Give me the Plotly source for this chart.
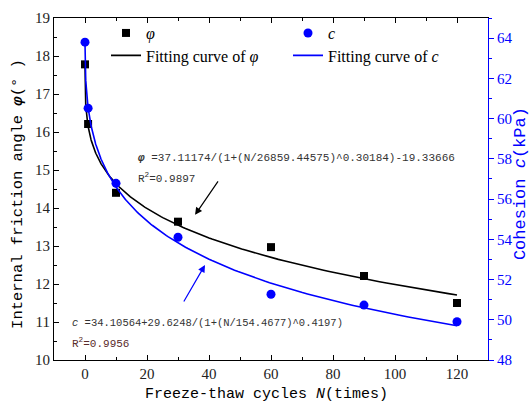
import numpy as np
import plotly.graph_objects as go

# Measured data
cycles = [0, 1, 10, 30, 60, 90, 120]
phi_vals = [17.78, 16.21, 14.40, 13.64, 12.97, 12.21, 11.50]
c_vals = [63.80, 60.52, 56.78, 54.10, 51.27, 50.73, 49.90]

# Logistic fit parameters: y = A2 + (A1 - A2) / (1 + (N / x0)^p)
phi_fit = dict(A2=-19.33666, amp=37.11174, x0=26859.44575, p=0.30184)
c_fit = dict(A2=34.10564, amp=29.6248, x0=154.4677, p=0.4197)

x_ticks = [0, 20, 40, 60, 80, 100, 120]


def logistic(n, prm):
    return prm["A2"] + prm["amp"] / (1.0 + (n / prm["x0"]) ** prm["p"])


n_curve = np.concatenate([[0.0], np.geomspace(1e-4, 120, 600)])
phi_curve = logistic(n_curve, phi_fit)
c_curve = logistic(n_curve, c_fit)

BLUE = "#0000ff"
SERIF = "Liberation Serif"
MONO = "Liberation Mono"

fig = go.Figure()
fig.add_trace(go.Scatter(
    x=cycles, y=phi_vals, mode="markers", name="<i>φ</i>",
    marker=dict(symbol="square", size=8, color="black"),
    legend="legend", yaxis="y"))
fig.add_trace(go.Scatter(
    x=n_curve, y=phi_curve, mode="lines", name="Fitting curve of <i>φ</i>",
    line=dict(color="black", width=1.6), legend="legend2", yaxis="y"))
fig.add_trace(go.Scatter(
    x=cycles, y=c_vals, mode="markers", name="<i>c</i>",
    marker=dict(symbol="circle", size=9, color=BLUE),
    legend="legend3", yaxis="y2"))
fig.add_trace(go.Scatter(
    x=n_curve, y=c_curve, mode="lines", name="Fitting curve of <i>c</i>",
    line=dict(color=BLUE, width=1.6), legend="legend4", yaxis="y2"))

L, R, T, B = 54, 42, 10, 52
W, H = 530, 412
PW, PH = W - L - R, H - T - B


def px(xp):
    return (xp - L) / PW


def py(yp):
    return (H - B - yp) / PH


legend_common = dict(
    font=dict(family=SERIF, size=16, color="black"),
    bgcolor="rgba(0,0,0,0)", borderwidth=0,
    yanchor="top", xanchor="left")

fig.update_layout(
    width=W, height=H,
    margin=dict(l=L, r=R, t=T, b=B),
    paper_bgcolor="white", plot_bgcolor="white",
    showlegend=True,
    legend=dict(x=px(106), y=py(8), **legend_common),
    legend2=dict(x=px(106), y=py(31), **legend_common),
    legend3=dict(x=px(288), y=py(8), **legend_common),
    legend4=dict(x=px(288), y=py(31), **legend_common),
    xaxis=dict(
        range=[-10, 130], tickvals=x_ticks,
        ticks="inside", ticklen=5, tickwidth=1, tickcolor="black",
        minor=dict(dtick=10, ticks="inside", ticklen=3, tickcolor="black"),
        showline=True, linecolor="black", linewidth=1.2, mirror="ticks",
        showgrid=False, zeroline=False,
        tickfont=dict(family=SERIF, size=15, color="#222")),
    yaxis=dict(
        range=[10, 19], dtick=1,
        ticks="inside", ticklen=5, tickwidth=1, tickcolor="black",
        minor=dict(dtick=0.5, ticks="inside", ticklen=3, tickcolor="black"),
        showline=True, linecolor="black", linewidth=1.2,
        showgrid=False, zeroline=False,
        tickfont=dict(family=SERIF, size=15, color="#222")),
    yaxis2=dict(
        range=[48, 65], dtick=2, overlaying="y", side="right",
        ticks="outside", ticklen=5, tickwidth=1, tickcolor=BLUE,
        minor=dict(dtick=1, ticks="outside", ticklen=3, tickcolor=BLUE),
        showline=True, linecolor=BLUE, linewidth=1.2,
        showgrid=False, zeroline=False,
        tickfont=dict(family=SERIF, size=15, color=BLUE)),
)

ann_font = dict(family=MONO, size=11, color="#333")
annotations = [
    # axis titles
    dict(text="Freeze-thaw cycles <i>N</i>(times)", xref="paper", yref="paper",
         x=px(266), y=py(395), xanchor="center", yanchor="middle",
         showarrow=False, font=dict(family=MONO, size=15, color="black")),
    dict(text="Internal friction angle <b><i>φ</i></b>(° )", xref="paper", yref="paper",
         x=px(18), y=py(190), xanchor="center", yanchor="middle", textangle=-90,
         showarrow=False, font=dict(family=MONO, size=15.5, color="black")),
    dict(text="Cohesion <i>c</i>(kPa)", xref="paper", yref="paper",
         x=px(520), y=py(180), xanchor="center", yanchor="middle", textangle=-90,
         showarrow=False, font=dict(family=MONO, size=17, color=BLUE)),
    # fit equations
    dict(text="<b><i>φ</i></b> =37.11174/(1+(N/26859.44575)^0.30184)-19.33666",
         xref="paper", yref="paper", x=px(136), y=py(153),
         xanchor="left", yanchor="middle", showarrow=False, font=ann_font),
    dict(text="R<sup>2</sup>=0.9897", xref="paper", yref="paper",
         x=px(136), y=py(174), xanchor="left", yanchor="middle",
         showarrow=False, font=ann_font),
    dict(text="<i>c</i> =34.10564+29.6248/(1+(N/154.4677)^0.4197)",
         xref="paper", yref="paper", x=px(70), y=py(322),
         xanchor="left", yanchor="middle", showarrow=False,
         font=dict(family=MONO, size=10.5, color="#333")),
    dict(text="R<sup>2</sup>=0.9956", xref="paper", yref="paper",
         x=px(70), y=py(343), xanchor="left", yanchor="middle",
         showarrow=False, font=dict(family=MONO, size=11, color="#5a2b2b")),
    # pointer arrows
    dict(text="", x=35.5, y=13.82, xref="x", yref="y", ax=24, ay=-35,
         showarrow=True, arrowhead=2, arrowsize=1.2, arrowwidth=1.2,
         arrowcolor="black"),
    dict(text="", x=38.7, y=12.5, xref="x", yref="y", ax=-22, ay=38,
         showarrow=True, arrowhead=2, arrowsize=1.2, arrowwidth=1.2,
         arrowcolor=BLUE),
]
fig.update_layout(annotations=annotations)

fig.write_html("out.html")
